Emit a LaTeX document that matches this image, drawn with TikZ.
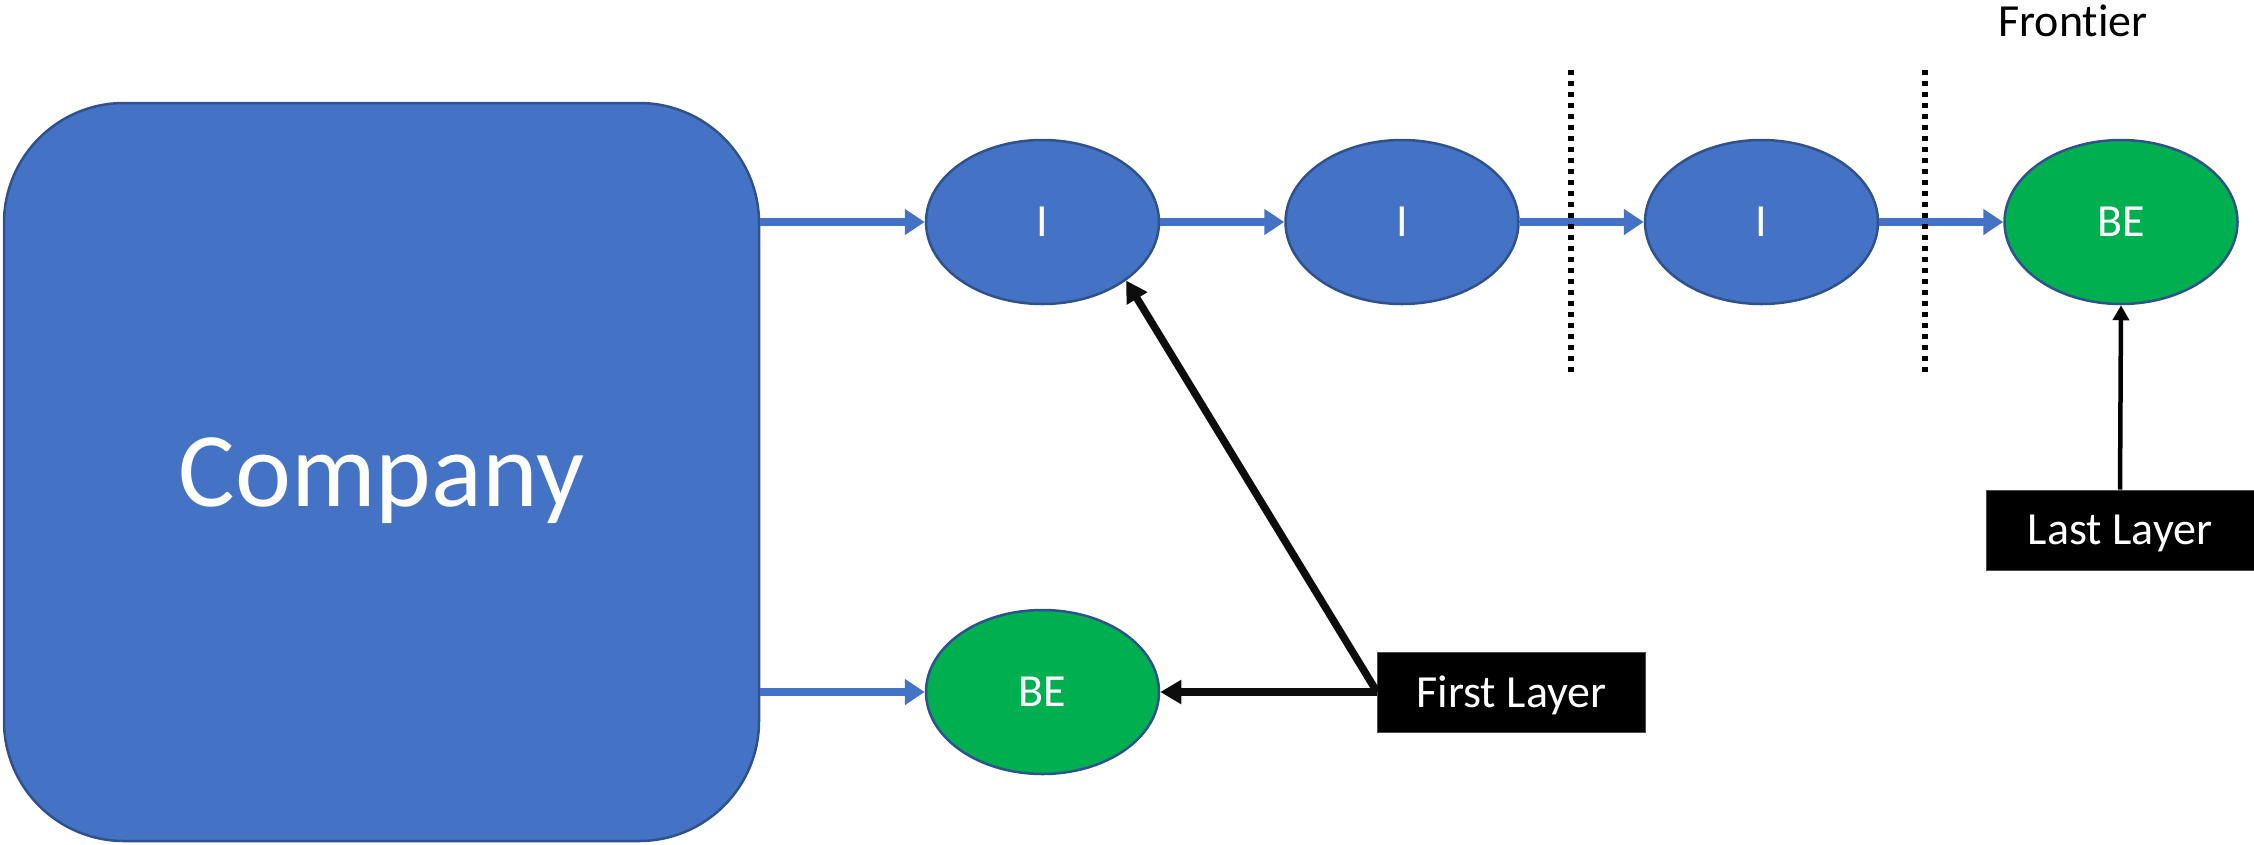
\documentclass[tikz,border=0pt]{standalone}
\usepackage{fontspec}
\setmainfont{Carlito}[Ligatures={NoCommon}]
\usetikzlibrary{shapes.geometric,arrows.meta}
\definecolor{nodeblue}{HTML}{4472C4}
\definecolor{edgeblue}{HTML}{2F528F}
\definecolor{begreen}{HTML}{00B050}

\begin{document}
\begin{tikzpicture}[x=1pt,y=-1pt,
  stage/.style={ellipse, draw=edgeblue, line width=2.5pt, fill=nodeblue,
    minimum width=233pt, minimum height=164pt, inner sep=0pt, text=white,
    font=\fontsize{46}{50}\selectfont},
  boundary/.style={stage, fill=begreen},
  company/.style={rectangle, rounded corners=120pt, draw=edgeblue, line width=2.5pt,
    fill=nodeblue, minimum width=755pt, minimum height=738pt, text=white,
    text depth=0pt, font=\fontsize{106}{110}\selectfont},
  tag/.style={rectangle, fill=black, draw=black!70, line width=1pt,
    minimum width=268pt, minimum height=80pt, inner sep=0pt, text=white,
    text depth=0pt, font=\fontsize{46}{50}\selectfont},
  flow/.style={draw=nodeblue, line width=8.5pt, -{Triangle[length=20pt,width=25pt]}},
  pointer/.style={draw=black!95, line width=7.5pt, -{Triangle[length=21pt,width=23pt]}},
  thinpointer/.style={draw=black, line width=4.5pt, -{Triangle[length=15pt,width=16pt]}},
  frontier/.style={draw=black, line width=5.5pt, dash pattern=on 5pt off 6pt}
]
\useasboundingbox (0,0) rectangle (2254,844);

% main shapes
\node[company] (co) at (381.5,472) {Company};
\node[stage] (i1) at (1042.5,222) {I};
\node[stage] (i2) at (1402,222) {I};
\node[stage] (i3) at (1761.5,222) {I};
\node[boundary] (be1) at (2121,222) {BE};
\node[boundary] (be2) at (1042.5,692) {BE};

% labels
\node[tag] (first) at (1511.5,692) {First Layer};
\node[tag] (last) at (2120,530) {Last Layer};
\node[anchor=base, inner sep=0pt, font=\fontsize{46}{50}\selectfont] (fr) at (2073,36) {Frontier};

% chain of stages
\draw[flow] (i1.west -| co.east) -- (i1.west);
\draw[flow] (i1.east) -- (i2.west);
\draw[flow] (i2.east) -- (i3.west);
\draw[flow] (i3.east) -- (be1.west);
\draw[flow] (be2.west -| co.east) -- (be2.west);

% layer pointers
\draw[pointer] (first.west) -- (be2.east);
\draw[pointer] (first.west) -- (i1.-35);
\draw[thinpointer] (last.north) -- (be1.south);

% frontier markers
\coordinate (fa1) at (1571,70);
\coordinate (fa2) at (1571,375);
\coordinate (fb1) at (1925,70);
\coordinate (fb2) at (1925,375);
\draw[frontier] (fa1) -- (fa2);
\draw[frontier] (fb1) -- (fb2);
\end{tikzpicture}
\end{document}
